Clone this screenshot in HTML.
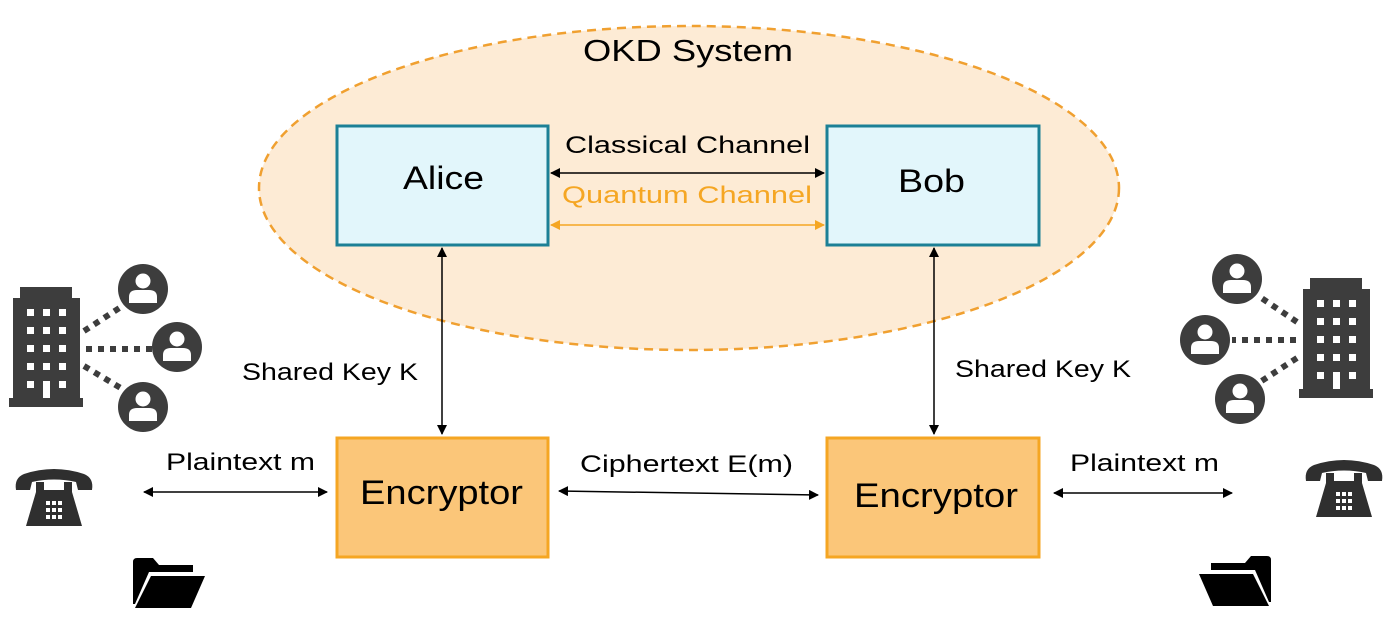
<!DOCTYPE html>
<html><head><meta charset="utf-8"><style>
body{margin:0;background:#fff}
svg{display:block;font-family:"Liberation Sans",sans-serif}
</style></head><body>
<svg width="1396" height="630" viewBox="0 0 1396 630" xmlns="http://www.w3.org/2000/svg">
<defs>
<marker id="ab" markerWidth="10" markerHeight="10" refX="9" refY="5" orient="auto-start-reverse" markerUnits="userSpaceOnUse"><path d="M0,0 L10,5 L0,10 z" fill="#000"/></marker>
<marker id="ao" markerWidth="10" markerHeight="10" refX="9" refY="5" orient="auto-start-reverse" markerUnits="userSpaceOnUse"><path d="M0,0 L10,5 L0,10 z" fill="#f5a623"/></marker>
<g id="bld">
<rect x="0" y="111" width="74" height="9" fill="#3d3d3d"/>
<rect x="4" y="11" width="67" height="101" fill="#3d3d3d"/>
<rect x="11" y="0" width="52" height="12" fill="#3d3d3d"/>
<g fill="#fff">
<rect x="18" y="22" width="7" height="7"/><rect x="34" y="22" width="7" height="7"/><rect x="50" y="22" width="7" height="7"/>
<rect x="18" y="40" width="7" height="7"/><rect x="34" y="40" width="7" height="7"/><rect x="50" y="40" width="7" height="7"/>
<rect x="18" y="58" width="7" height="7"/><rect x="34" y="58" width="7" height="7"/><rect x="50" y="58" width="7" height="7"/>
<rect x="18" y="76" width="7" height="7"/><rect x="34" y="76" width="7" height="7"/><rect x="50" y="76" width="7" height="7"/>
<rect x="18" y="94" width="7" height="7"/><rect x="34" y="94" width="7" height="17"/><rect x="50" y="94" width="7" height="7"/>
</g></g>
<g id="per">
<circle r="25" fill="#3d3d3d"/>
<circle cx="0" cy="-8" r="7.5" fill="#fff"/>
<path d="M-14,14 L-14,8 Q-14,1 -6,1 L6,1 Q14,1 14,8 L14,14 z" fill="#fff"/>
</g>
<g id="phone">
<path d="M2,22 Q0,10 10,6 Q40,-4 70,6 Q80,10 78,22 L64,22 L62,14 Q40,9 18,14 L16,22 z" fill="#2f2f2f"/>
<path d="M22,14 L30,14 L30,22 L50,22 L50,14 L58,14 L58,24 L68,58 L12,58 L22,24 z" fill="#2f2f2f"/>
<g fill="#fff"><rect x="32" y="33" width="4" height="4"/><rect x="38" y="33" width="4" height="4"/><rect x="44" y="33" width="4" height="4"/>
<rect x="32" y="40" width="4" height="4"/><rect x="38" y="40" width="4" height="4"/><rect x="44" y="40" width="4" height="4"/>
<rect x="32" y="47" width="4" height="4"/><rect x="38" y="47" width="4" height="4"/><rect x="44" y="47" width="4" height="4"/></g>
</g>
<g id="folder">
<path d="M0,4 Q0,0 4,0 L20,0 L26,7 L60,7 L60,14 L16,14 L2,46 L0,46 z" fill="#000"/>
<path d="M18,18 L72,18 L58,50 L2,50 z" fill="#000"/>
</g>
</defs>

<ellipse cx="689" cy="188" rx="430" ry="162" fill="#fdebd5" stroke="#f0a030" stroke-width="2.5" stroke-dasharray="9,6"/>
<text x="583" y="61" font-size="31" textLength="210" lengthAdjust="spacingAndGlyphs" fill="#000">OKD System</text>

<rect x="337" y="126" width="211" height="119" fill="#e2f6fb" stroke="#1c8096" stroke-width="3"/>
<text x="403" y="189" font-size="32" textLength="81" lengthAdjust="spacingAndGlyphs">Alice</text>
<rect x="827" y="126" width="212" height="119" fill="#e2f6fb" stroke="#1c8096" stroke-width="3"/>
<text x="898" y="192" font-size="32" textLength="67" lengthAdjust="spacingAndGlyphs">Bob</text>

<text x="565" y="153" font-size="24" textLength="245" lengthAdjust="spacingAndGlyphs">Classical Channel</text>
<line x1="551" y1="173" x2="824" y2="173" stroke="#000" stroke-width="1.5" marker-start="url(#ab)" marker-end="url(#ab)"/>
<text x="562" y="203" font-size="24" textLength="250" lengthAdjust="spacingAndGlyphs" fill="#f5a623">Quantum Channel</text>
<line x1="551" y1="225" x2="824" y2="225" stroke="#f5a623" stroke-width="1.5" marker-start="url(#ao)" marker-end="url(#ao)"/>

<line x1="442" y1="248" x2="442" y2="434" stroke="#000" stroke-width="1.5" marker-start="url(#ab)" marker-end="url(#ab)"/>
<line x1="934" y1="248" x2="934" y2="434" stroke="#000" stroke-width="1.5" marker-start="url(#ab)" marker-end="url(#ab)"/>
<text x="242" y="380" font-size="24" textLength="176" lengthAdjust="spacingAndGlyphs">Shared Key K</text>
<text x="955" y="377" font-size="24" textLength="176" lengthAdjust="spacingAndGlyphs">Shared Key K</text>

<rect x="337" y="438" width="211" height="119" fill="#fbc679" stroke="#f5a623" stroke-width="3"/>
<text x="360" y="504" font-size="34" textLength="163" lengthAdjust="spacingAndGlyphs">Encryptor</text>
<rect x="827" y="438" width="212" height="119" fill="#fbc679" stroke="#f5a623" stroke-width="3"/>
<text x="854" y="507" font-size="34" textLength="164" lengthAdjust="spacingAndGlyphs">Encryptor</text>

<text x="166" y="470" font-size="24" textLength="149" lengthAdjust="spacingAndGlyphs">Plaintext m</text>
<line x1="144" y1="492" x2="327" y2="492" stroke="#000" stroke-width="1.5" marker-start="url(#ab)" marker-end="url(#ab)"/>
<text x="580" y="472" font-size="24" textLength="213" lengthAdjust="spacingAndGlyphs">Ciphertext E(m)</text>
<line x1="559" y1="491" x2="818" y2="495" stroke="#000" stroke-width="1.5" marker-start="url(#ab)" marker-end="url(#ab)"/>
<text x="1070" y="471" font-size="24" textLength="149" lengthAdjust="spacingAndGlyphs">Plaintext m</text>
<line x1="1054" y1="493" x2="1232" y2="493" stroke="#000" stroke-width="1.5" marker-start="url(#ab)" marker-end="url(#ab)"/>

<g stroke="#3d3d3d" stroke-width="6" stroke-dasharray="6,6">
<line x1="84" y1="331" x2="124" y2="305"/>
<line x1="86" y1="349" x2="152" y2="349"/>
<line x1="84" y1="366" x2="124" y2="390"/>
</g>
<use href="#bld" x="9" y="287"/>
<use href="#per" x="143" y="289"/>
<use href="#per" x="177" y="347"/>
<use href="#per" x="143" y="407"/>
<use href="#phone" x="14" y="468"/>
<use href="#folder" x="133" y="558"/>

<g stroke="#3d3d3d" stroke-width="6" stroke-dasharray="6,6">
<line x1="1297" y1="322" x2="1260" y2="297"/>
<line x1="1296" y1="340" x2="1232" y2="340"/>
<line x1="1297" y1="358" x2="1260" y2="382"/>
</g>
<use href="#bld" x="1299" y="278"/>
<use href="#per" x="1237" y="279"/>
<use href="#per" x="1205" y="340"/>
<use href="#per" x="1240" y="399"/>
<use href="#phone" x="1304" y="459"/>
<g transform="translate(1271,556) scale(-1,1)"><use href="#folder"/></g>
</svg>
</body></html>
